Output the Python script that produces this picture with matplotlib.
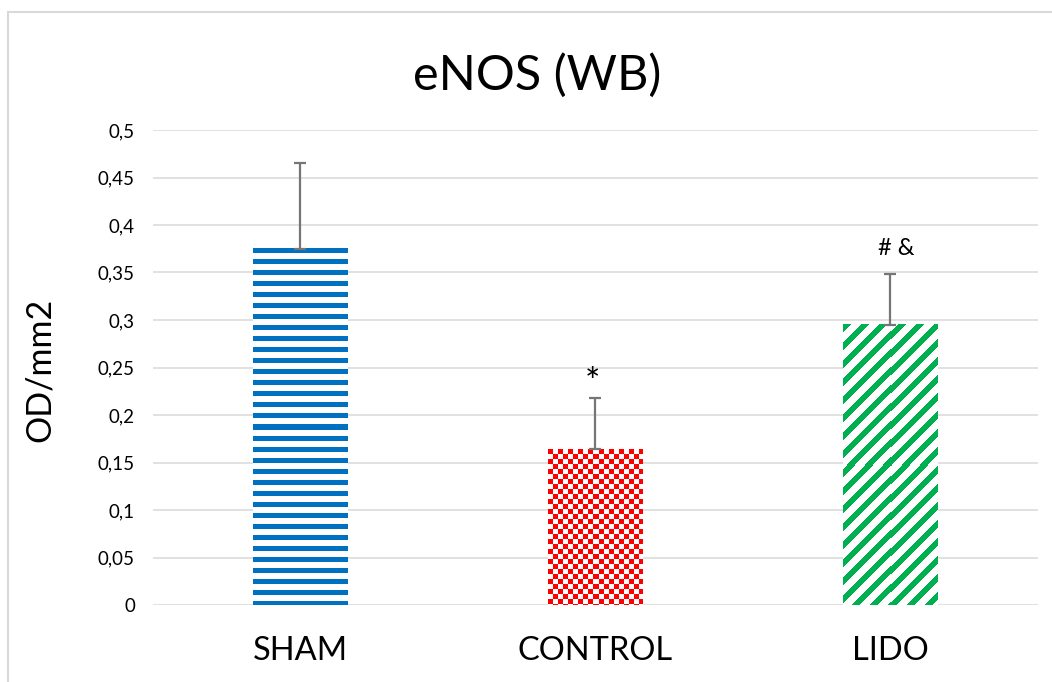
import numpy as np
import matplotlib.pyplot as plt
from matplotlib.patches import Rectangle
from matplotlib.ticker import FuncFormatter

groups = ["SHAM", "CONTROL", "LIDO"]
means = [0.375, 0.164, 0.295]
errors = [0.090, 0.054, 0.053]
marks = ["", "*", "# &"]
fills = ["#0070C0", "#FF0000", "#00B050"]
patterns = ["hstripe", "checker", "diag"]

plt.rcParams["font.family"] = ["Lato", "DejaVu Sans"]

fig = plt.figure(figsize=(10.52, 6.82), dpi=100)
ax = fig.add_axes([153 / 1052, 77 / 682, 884.5 / 1052, 475 / 682])

x = np.arange(len(groups))
bars = ax.bar(x, means, width=0.32, color="none", zorder=2)
ax.errorbar(x, means, yerr=[np.zeros(len(x)), errors], fmt="none",
            ecolor="#767676", elinewidth=1.6, capsize=4.3, capthick=1.6, zorder=4)

ax.set_xlim(-0.5, 2.5)
ax.set_ylim(0, 0.5)
ax.set_yticks(np.arange(0, 0.501, 0.05))
ax.yaxis.set_major_formatter(FuncFormatter(lambda v, p: ("%g" % round(v, 2)).replace(".", ",")))
ax.set_xticks(x)
ax.set_xticklabels(groups, fontsize=23.5)
ax.tick_params(axis="y", length=0, pad=13, labelsize=13.5)
ax.tick_params(axis="x", length=0, pad=22)
ax.yaxis.grid(True, color="#D9D9D9", lw=1.1)
ax.set_axisbelow(True)
for s in ax.spines.values():
    s.set_visible(False)

# significance marks above the error bars
for xi, m, e, lab in zip(x, means, errors, marks):
    if lab == "*":
        ax.text(xi - 0.01, m + e + 0.004, lab, ha="center", va="baseline", fontsize=26)
    elif lab:
        ax.text(xi + 0.02, m + e + 0.02, lab, ha="center", va="baseline", fontsize=17)

# pattern fills drawn as images inside each bar
fig.canvas.draw()
for bar, col, kind in zip(bars, fills, patterns):
    x0 = bar.get_x()
    x1 = x0 + bar.get_width()
    y1 = bar.get_height()
    (px0, py0), (px1, py1) = ax.transData.transform([(x0, 0), (x1, y1)])
    w = int(round(px1 - px0))
    h = int(round(py1 - py0))
    jj, ii = np.meshgrid(np.arange(w), np.arange(h))
    if kind == "hstripe":
        on = (ii % 11) < 5
    elif kind == "checker":
        on = ((jj // 5) + (ii // 5)) % 2 == 0
    else:
        on = ((jj + ii) % 18) < 8
    rgb = np.array([int(col[k:k + 2], 16) / 255 for k in (1, 3, 5)])
    img = np.ones((h, w, 3))
    img[on] = rgb
    ax.imshow(img, extent=(x0, x1, 0, y1), origin="upper", aspect="auto",
              interpolation="nearest", zorder=3)

ax.set_xlim(-0.5, 2.5)
ax.set_ylim(0, 0.5)

fig.text(537 / 1052, 1 - 75 / 682, "eNOS (WB)", ha="center", va="center", fontsize=35)
fig.text(40 / 1052, 1 - 370 / 682, "OD/mm2", ha="center", va="center",
         rotation=90, fontsize=24.5)

fig.patches.append(Rectangle((8 / 1052, -0.1), 2, 1.1 - 11.5 / 682, transform=fig.transFigure,
                             fill=False, edgecolor="#D9D9D9", lw=1.5))

fig.savefig("out.png", dpi=100)
